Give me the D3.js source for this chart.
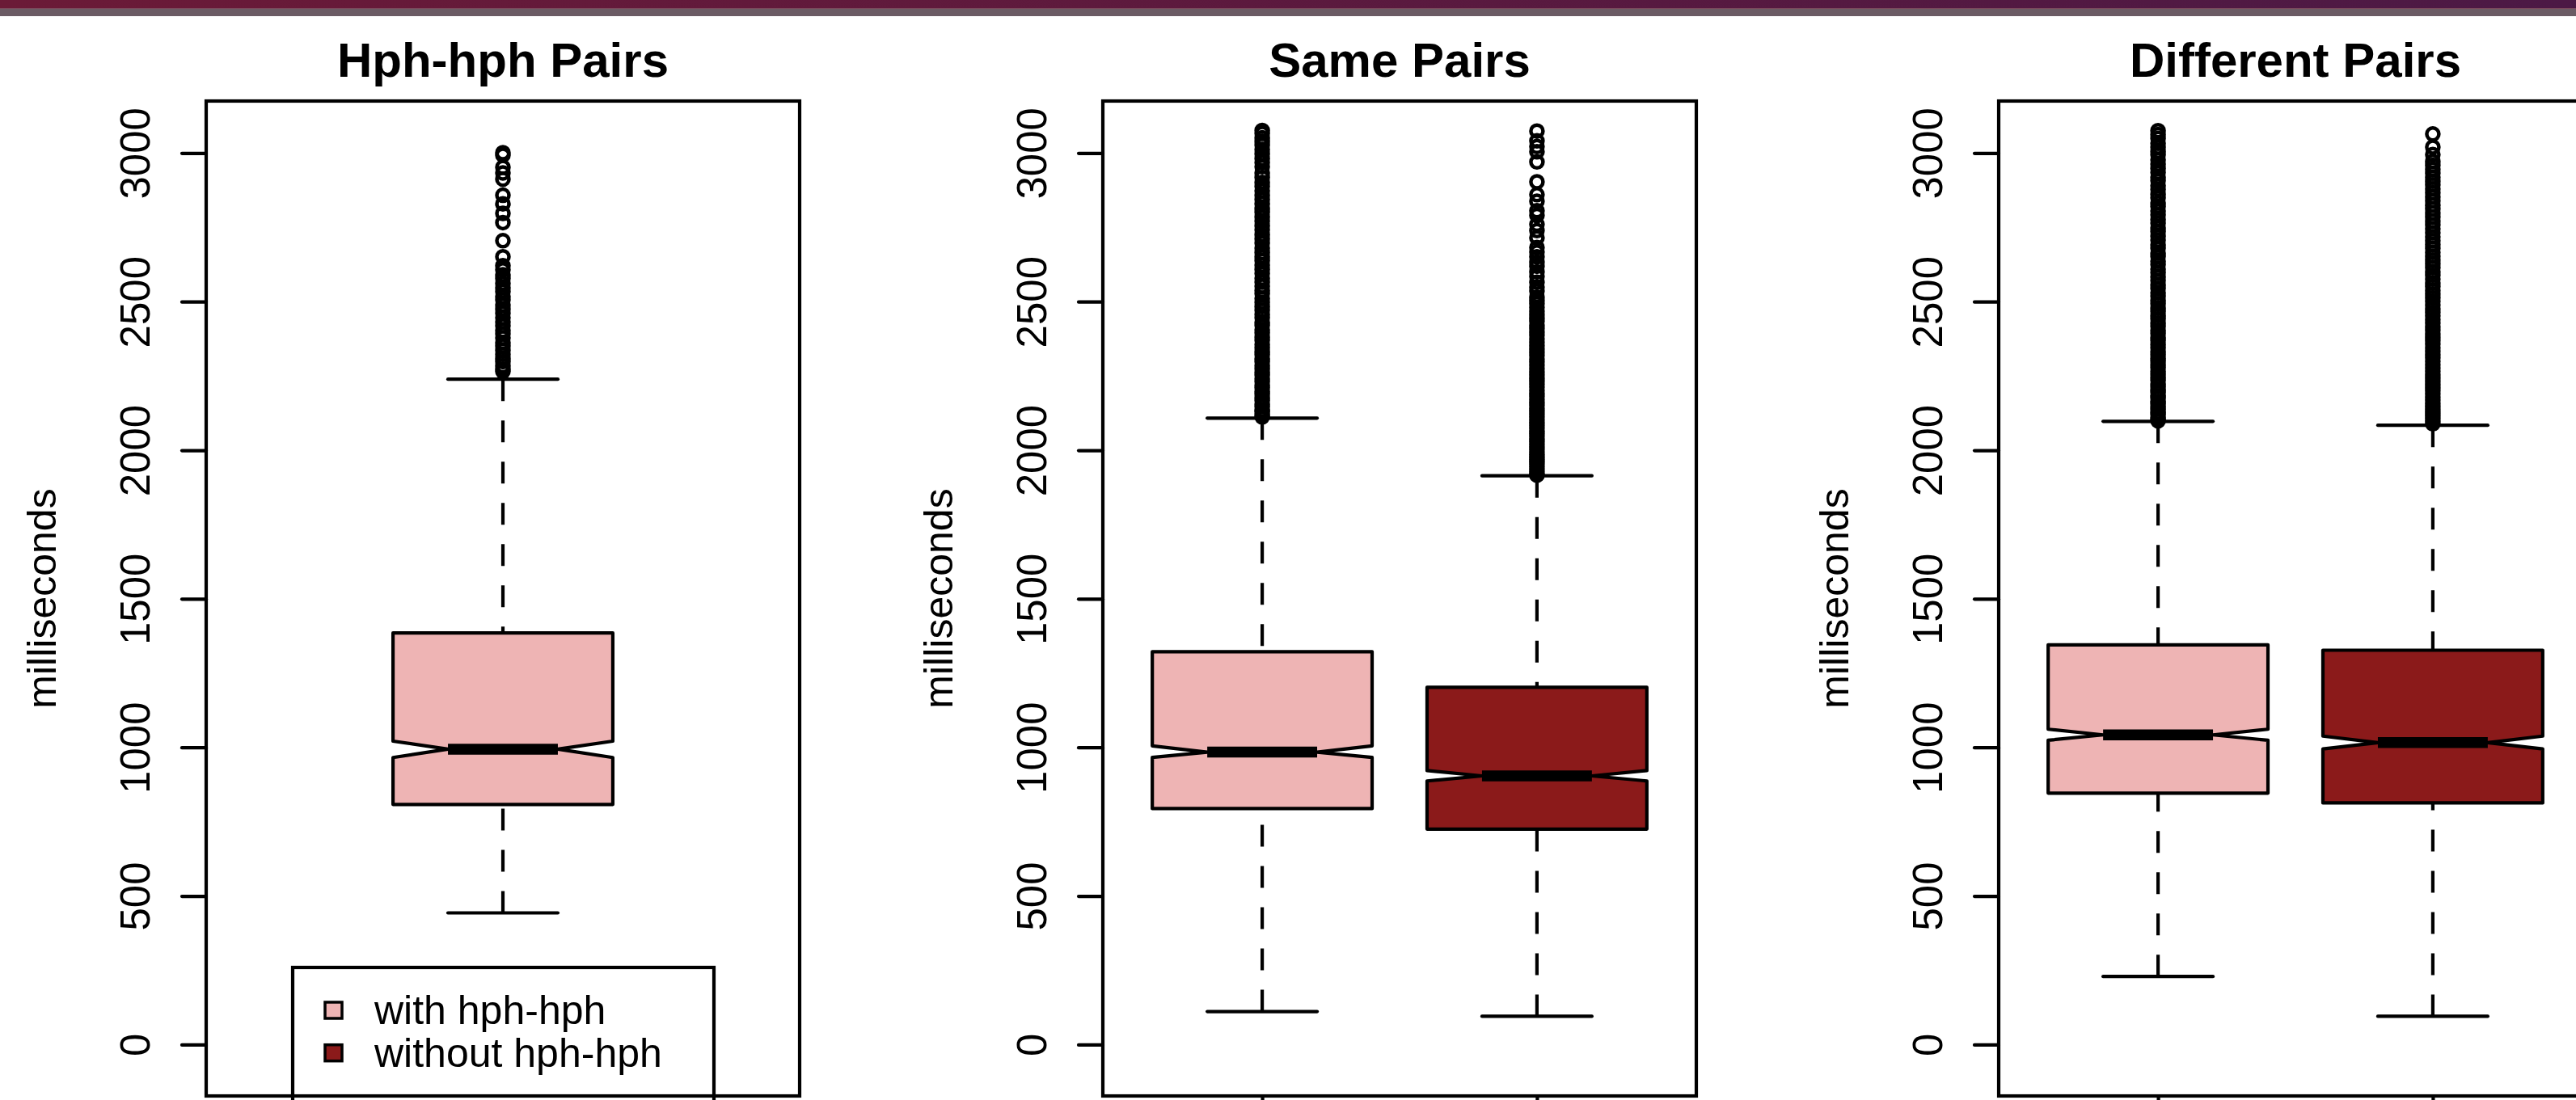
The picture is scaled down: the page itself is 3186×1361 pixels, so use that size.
<!DOCTYPE html>
<html><head><meta charset="utf-8">
<script src="https://cdn.jsdelivr.net/npm/d3@7"></script>
<style>html,body{margin:0;padding:0;background:#fff;overflow:hidden}</style>
</head><body>
<svg id="c" width="3186" height="1361"></svg>
<script>
// ---------------- data ----------------
const panelTitles = ["Hph-hph Pairs", "Same Pairs", "Different Pairs"];
const groupNames = ["with hph-hph", "without hph-hph"];
const groupColors = ["#EEB4B4", "#8B1A1A"];
const yTicks = [0, 500, 1000, 1500, 2000, 2500, 3000];
const yLabel = "milliseconds";

// stats: [lower whisker, Q1, notch low, median, notch high, Q3, upper whisker]
const hphWithStats      = [443, 808, 966, 994, 1021, 1385, 2239];
const sameWithStats     = [111, 794, 966, 984, 1005, 1322, 2108];
const sameWithoutStats  = [95, 725, 887, 904, 922, 1202, 1914];
const diffWithStats     = [229, 846, 1024, 1042, 1061, 1345, 2097];
const diffWithoutStats  = [95, 813, 995, 1016, 1038, 1327, 2084];

const hphWithOut = [3001, 2993, 2952, 2933, 2912, 2858, 2829, 2797, 2766, 2705, 2651, 2621, 2607, 2590,
  2578, 2561, 2547, 2534, 2517, 2506, 2489, 2475, 2461, 2446, 2432, 2419, 2403, 2392, 2378, 2362, 2351,
  2336, 2323, 2309, 2298, 2284, 2273, 2265];
const sameWithOut = [3076, 3066, 3051, 3040, 3027, 3012, 2997, 2981, 2968, 2954, 2933, 2918, 2901, 2888,
  2873, 2858, 2844, 2830, 2813, 2801, 2785, 2771, 2755, 2742, 2725, 2711, 2697, 2680, 2665, 2651, 2638,
  2623, 2608, 2595, 2579, 2566, 2552, 2537, 2527, 2511, 2498, 2483, 2471, 2457, 2446, 2430, 2420, 2405,
  2395, 2380, 2370, 2356, 2345, 2331, 2322, 2308, 2298, 2285, 2275, 2262, 2253, 2240, 2231, 2218, 2210,
  2197, 2189, 2176, 2167, 2155, 2147, 2136, 2129, 2118, 2112];
const sameWithoutOut = [3074, 3041, 3022, 3004, 2970, 2903, 2860, 2838, 2806, 2790, 2760, 2739, 2715,
  2682, 2667, 2651, 2633, 2619, 2600, 2585, 2565, 2549, 2536, 2515, 2504, 2493, 2481, 2468, 2457, 2445,
  2434, 2421, 2410, 2398, 2387, 2375, 2364, 2352, 2341, 2330, 2319, 2307, 2297, 2286, 2275, 2264, 2254,
  2243, 2233, 2222, 2212, 2201, 2191, 2181, 2171, 2161, 2151, 2141, 2131, 2121, 2112, 2102, 2093, 2083,
  2074, 2065, 2056, 2047, 2038, 2029, 2020, 2011, 2003, 1994, 1986, 1977, 1969, 1961, 1953, 1945, 1937,
  1929, 1921, 1916];
const diffWithOut = [3075, 3062, 3049, 3033, 3020, 3005, 2994, 2977, 2963, 2948, 2935, 2919, 2907, 2890,
  2878, 2861, 2849, 2832, 2820, 2805, 2792, 2776, 2764, 2748, 2736, 2720, 2707, 2691, 2680, 2663, 2652,
  2636, 2625, 2609, 2598, 2583, 2571, 2556, 2545, 2530, 2519, 2504, 2493, 2478, 2467, 2453, 2442, 2428,
  2417, 2403, 2393, 2379, 2369, 2355, 2345, 2332, 2322, 2309, 2300, 2287, 2278, 2265, 2256, 2244, 2235,
  2223, 2215, 2203, 2195, 2183, 2176, 2164, 2157, 2146, 2139, 2128, 2121, 2110, 2104, 2099];
const diffWithoutOut = [3064, 3020, 2995, 2972, 2959, 2946, 2932, 2919, 2905, 2893, 2879, 2866, 2852,
  2839, 2825, 2812, 2798, 2785, 2771, 2758, 2745, 2732, 2718, 2705, 2692, 2679, 2666, 2653, 2640, 2627,
  2614, 2601, 2589, 2576, 2563, 2551, 2538, 2526, 2513, 2501, 2489, 2476, 2464, 2452, 2440, 2428, 2416,
  2404, 2392, 2380, 2369, 2357, 2345, 2334, 2322, 2311, 2299, 2288, 2277, 2266, 2255, 2244, 2233, 2222,
  2211, 2200, 2190, 2179, 2169, 2158, 2148, 2138, 2128, 2118, 2108, 2099, 2089];

// ---------------- build ----------------
const panels = [
  {title: panelTitles[0], boxes: [{stats: hphWithStats, out: hphWithOut, color: groupColors[0]}], halfW: 0.2, xTicks: false, legend: true},
  {title: panelTitles[1], boxes: [{stats: sameWithStats, out: sameWithOut, color: groupColors[0]},
                                  {stats: sameWithoutStats, out: sameWithoutOut, color: groupColors[1]}], halfW: 0.4, xTicks: true},
  {title: panelTitles[2], boxes: [{stats: diffWithStats, out: diffWithOut, color: groupColors[0]},
                                  {stats: diffWithoutStats, out: diffWithoutOut, color: groupColors[1]}], halfW: 0.4, xTicks: true}
];

const W = 3186, H = 1361;
const svg = d3.select("#c");
const FONT = "'Liberation Sans', Arial, Helvetica, sans-serif";

// top banner
const defs = svg.append("defs");
const grad = defs.append("linearGradient").attr("id", "band").attr("x1", 0).attr("x2", 1).attr("y1", 0).attr("y2", 0);
grad.append("stop").attr("offset", 0).attr("stop-color", "#6b1a37");
grad.append("stop").attr("offset", 1).attr("stop-color", "#4c1945");
svg.append("rect").attr("x", 0).attr("y", 0).attr("width", W).attr("height", 10).attr("fill", "url(#band)");
svg.append("rect").attr("x", 0).attr("y", 10).attr("width", W).attr("height", 1).attr("fill", "#7a4a5c");
svg.append("rect").attr("x", 0).attr("y", 11).attr("width", W).attr("height", 9).attr("fill", "#6b5b64");

const frameTop = 125, frameBottom = 1356, frameW = 734;
const panelLefts = [255, 1364, 2472];
const y = d3.scaleLinear().domain([-173, 3175]).range([frameBottom, frameTop]);
const LW = 4.2;

panels.forEach((p, i) => {
  const left = panelLefts[i];
  const n = p.boxes.length;
  const x = d3.scaleLinear().domain([0.5 - 0.04 * n, n + 0.5 + 0.04 * n]).range([left, left + frameW]);
  const g = svg.append("g");

  // title
  g.append("text").attr("x", left + frameW / 2).attr("y", 95)
    .attr("text-anchor", "middle").attr("font-family", FONT).attr("font-weight", "bold")
    .attr("font-size", 60).text(p.title);

  // y label
  g.append("text").attr("transform", `translate(${left - 186},${(frameTop + frameBottom) / 2}) rotate(-90)`)
    .attr("text-anchor", "middle").attr("font-family", FONT).attr("font-size", 50).text(yLabel);

  // y axis
  const ya = g.append("g").attr("transform", `translate(${left},0)`)
    .call(d3.axisLeft(y).tickValues(yTicks).tickSize(30).tickFormat(d3.format("d")));
  ya.select(".domain").remove();
  ya.selectAll(".tick line").attr("stroke", "#000").attr("stroke-width", LW).attr("stroke-linecap", "round");
  ya.selectAll(".tick text").attr("x", null).attr("dy", null).attr("text-anchor", "middle")
    .attr("transform", "translate(-70,0) rotate(-90)")
    .attr("font-family", FONT).attr("font-size", 51).attr("fill", "#000");

  if (p.xTicks) {
    const xa = g.append("g").attr("transform", `translate(0,${frameBottom})`)
      .call(d3.axisBottom(x).tickValues(d3.range(1, n + 1)).tickSize(30).tickFormat(""));
    xa.select(".domain").remove();
    xa.selectAll(".tick line").attr("stroke", "#000").attr("stroke-width", LW);
  }

  p.boxes.forEach((b, j) => {
    const c = j + 1;
    const [lw, q1, nlo, med, nhi, q3, uw] = b.stats;
    const hw = p.halfW;
    // whiskers (dashed, starting at whisker end)
    [[lw, q1], [uw, q3]].forEach(([a, bb]) => {
      g.append("line").attr("x1", x(c)).attr("x2", x(c)).attr("y1", y(a)).attr("y2", y(bb))
        .attr("stroke", "#000").attr("stroke-width", LW).attr("stroke-dasharray", "27,24");
    });
    // staples
    [lw, uw].forEach(v => {
      g.append("line").attr("x1", x(c - hw / 2)).attr("x2", x(c + hw / 2)).attr("y1", y(v)).attr("y2", y(v))
        .attr("stroke", "#000").attr("stroke-width", LW).attr("stroke-linecap", "round");
    });
    // notched box
    const pts = [[c - hw, q1], [c - hw, nlo], [c - hw / 2, med], [c - hw, nhi], [c - hw, q3],
                 [c + hw, q3], [c + hw, nhi], [c + hw / 2, med], [c + hw, nlo], [c + hw, q1]];
    g.append("path").attr("d", d3.line().x(d => x(d[0])).y(d => y(d[1]))(pts) + "Z")
      .attr("fill", b.color).attr("stroke", "#000").attr("stroke-width", LW).attr("stroke-linejoin", "round");
    // median
    g.append("line").attr("x1", x(c - hw / 2)).attr("x2", x(c + hw / 2)).attr("y1", y(med)).attr("y2", y(med))
      .attr("stroke", "#000").attr("stroke-width", 13.5);
    // outliers
    g.selectAll(null).data(b.out).enter().append("circle")
      .attr("cx", x(c)).attr("cy", d => y(d)).attr("r", 7.5)
      .attr("fill", "none").attr("stroke", "#000").attr("stroke-width", 4.5);
  });

  // legend
  if (p.legend) {
    const lg = g.append("g");
    lg.append("rect").attr("x", 362).attr("y", 1197).attr("width", 521).attr("height", 250)
      .attr("fill", "#fff").attr("stroke", "#000").attr("stroke-width", LW);
    groupNames.forEach((nm, k) => {
      lg.append("rect").attr("x", 402).attr("y", 1240 + k * 52.7).attr("width", 21).attr("height", 20)
        .attr("fill", groupColors[k]).attr("stroke", "#000").attr("stroke-width", 3.5);
      lg.append("text").attr("x", 463).attr("y", 1267 + k * 52.7)
        .attr("font-family", FONT).attr("font-size", 50).text(nm);
    });
  }

  // frame
  g.append("rect").attr("x", left).attr("y", frameTop).attr("width", frameW).attr("height", frameBottom - frameTop)
    .attr("fill", "none").attr("stroke", "#000").attr("stroke-width", LW);
});
</script>
</body></html>
